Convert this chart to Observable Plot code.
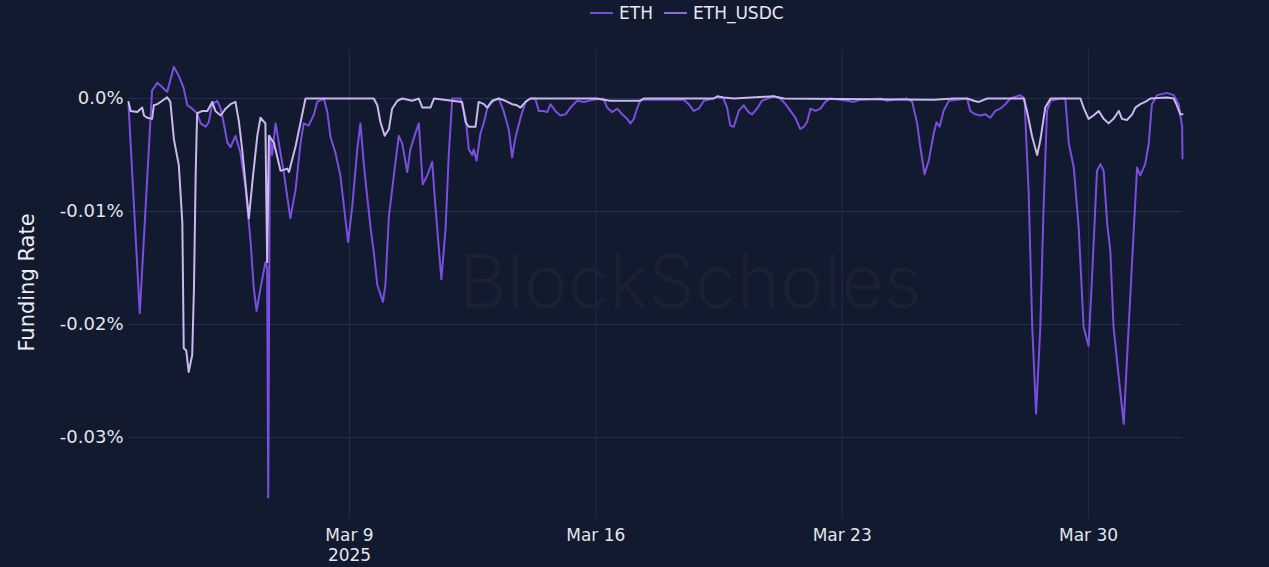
<!DOCTYPE html>
<html>
<head>
<meta charset="utf-8">
<script src="https://cdn.jsdelivr.net/npm/d3@7"></script>
<script src="https://cdn.jsdelivr.net/npm/@observablehq/plot@0.6"></script>
<style>
  html, body { margin: 0; padding: 0; background: #111a2e; }
  #legend { height: 30px; position: relative; font-family: "DejaVu Sans", sans-serif; font-size: 17px; color: #e8e8f0; }
  .item { position: absolute; top: 3px; display: flex; align-items: center; }
  .sw { width: 23px; height: 2px; margin-right: 6px; }
</style>
</head>
<body>
<div id="legend"></div>
<div id="chart"></div>
<script>
// Series names and colours
const seriesNames = ["ETH", "ETH_USDC"];
const seriesColors = ["#7b4ee0", "#cbb8ee"];
const legendColors = ["#7450d8", "#8a6ddc"];

// Time in day-of-March 2025 (fractional, UTC); values in percent
const ethT = [2.72,3.04,3.35,3.39,3.54,3.68,3.82,4.01,4.15,4.29,4.39,4.53,4.67,4.77,4.91,5.00,5.10,5.24,5.34,5.42,5.53,5.62,5.76,5.90,6.05,6.19,6.28,6.36,6.47,6.61,6.66,6.69,6.74,6.80,6.90,6.99,7.13,7.32,7.47,7.61,7.70,7.84,7.99,8.08,8.27,8.37,8.46,8.60,8.74,8.84,8.96,9.08,9.22,9.31,9.41,9.50,9.60,9.69,9.79,9.95,10.02,10.12,10.26,10.40,10.50,10.64,10.73,10.88,10.97,11.08,11.21,11.35,11.44,11.61,11.73,11.82,11.92,12.15,12.30,12.39,12.49,12.53,12.61,12.72,12.82,12.91,13.01,13.10,13.24,13.38,13.53,13.62,13.72,13.86,14.00,14.14,14.28,14.38,14.52,14.62,14.71,14.85,14.99,15.14,15.28,15.47,15.66,15.94,16.22,16.32,16.46,16.61,16.75,16.89,16.98,17.08,17.17,17.27,18.50,18.64,18.78,18.92,19.07,19.45,19.63,19.73,19.82,19.92,20.06,20.20,20.34,20.44,20.58,20.72,21.05,21.24,21.39,21.53,21.67,21.81,21.91,22.00,22.10,22.24,22.38,22.52,22.66,23.14,23.33,23.52,24.09,24.28,24.46,24.84,24.99,25.13,25.22,25.34,25.46,25.60,25.68,25.77,25.88,26.03,26.55,26.64,26.78,26.93,27.07,27.21,27.35,27.49,27.64,27.78,28.06,28.18,28.30,28.40,28.51,28.63,28.72,28.82,28.92,29.20,29.34,29.44,29.58,29.72,29.86,30.00,30.10,30.24,30.34,30.43,30.53,30.62,30.71,30.86,31.00,31.09,31.24,31.38,31.47,31.61,31.71,31.80,31.95,32.23,32.42,32.56,32.66,32.67];
const ethV = [-0.0005,-0.0190,-0.0015,0.0007,0.0014,0.0010,0.0006,0.0028,0.0020,0.0009,-0.0006,-0.0009,-0.0013,-0.0022,-0.0025,-0.0021,-0.0005,-0.0002,-0.0009,-0.0021,-0.0039,-0.0043,-0.0033,-0.0048,-0.0080,-0.0127,-0.0168,-0.0188,-0.0168,-0.0145,-0.0150,-0.0353,-0.0033,-0.0050,-0.0022,-0.0039,-0.0065,-0.0106,-0.0080,-0.0039,-0.0022,-0.0024,-0.0014,-0.0003,0.0000,-0.0012,-0.0034,-0.0048,-0.0068,-0.0095,-0.0127,-0.0095,-0.0045,-0.0022,-0.0059,-0.0086,-0.0115,-0.0136,-0.0165,-0.0180,-0.0165,-0.0104,-0.0068,-0.0033,-0.0040,-0.0065,-0.0045,-0.0030,-0.0022,-0.0076,-0.0068,-0.0056,-0.0095,-0.0160,-0.0115,-0.0050,0.0000,0.0000,-0.0017,-0.0045,-0.0050,-0.0045,-0.0055,-0.0031,-0.0021,-0.0009,-0.0005,-0.0002,0.0000,-0.0011,-0.0028,-0.0052,-0.0034,-0.0017,-0.0003,0.0000,0.0000,-0.0011,-0.0011,-0.0012,-0.0005,-0.0011,-0.0015,-0.0014,-0.0008,-0.0002,-0.0003,-0.0001,0.0000,-0.0008,-0.0012,-0.0009,-0.0014,-0.0018,-0.0022,-0.0018,-0.0009,-0.0001,-0.0001,-0.0005,-0.0011,-0.0009,-0.0002,0.0001,0.0000,-0.0008,-0.0024,-0.0025,-0.0011,-0.0006,-0.0012,-0.0014,-0.0009,-0.0002,0.0002,0.0000,-0.0005,-0.0011,-0.0017,-0.0027,-0.0025,-0.0021,-0.0009,-0.0011,-0.0009,-0.0003,0.0000,-0.0002,-0.0003,-0.0001,0.0000,-0.0002,-0.0001,0.0000,-0.0003,-0.0022,-0.0043,-0.0067,-0.0055,-0.0031,-0.0021,-0.0025,-0.0011,-0.0002,0.0000,-0.0011,-0.0014,-0.0015,-0.0014,-0.0017,-0.0011,-0.0009,-0.0005,0.0000,0.0003,0.0000,-0.0084,-0.0202,-0.0279,-0.0202,-0.0099,-0.0011,-0.0002,0.0000,0.0000,-0.0040,-0.0061,-0.0114,-0.0202,-0.0219,-0.0158,-0.0064,-0.0058,-0.0064,-0.0111,-0.0135,-0.0202,-0.0247,-0.0288,-0.0232,-0.0143,-0.0061,-0.0068,-0.0058,-0.0040,-0.0005,0.0003,0.0005,0.0003,-0.0005,-0.0025,-0.0053];

const usdcT = [2.72,2.78,2.97,3.11,3.16,3.25,3.39,3.44,3.54,3.68,3.82,3.91,4.01,4.15,4.25,4.29,4.36,4.43,4.53,4.58,4.63,4.67,4.82,4.96,5.10,5.19,5.34,5.48,5.62,5.76,5.86,5.95,6.14,6.24,6.38,6.47,6.61,6.66,6.71,6.85,7.04,7.23,7.28,7.47,7.61,7.75,9.69,9.79,9.88,10.00,10.12,10.21,10.36,10.50,10.78,10.97,11.07,11.30,11.40,12.20,12.30,12.39,12.58,12.67,12.82,12.91,13.05,13.24,13.43,13.62,13.76,13.86,14.00,14.14,16.04,16.22,16.41,17.27,17.36,19.35,19.45,19.63,19.92,21.05,21.34,25.60,26.17,26.55,26.74,26.88,27.12,28.16,28.25,28.40,28.54,28.63,28.77,28.92,29.77,29.86,30.00,30.14,30.29,30.43,30.57,30.71,30.86,30.95,31.09,31.24,31.33,31.47,31.61,31.76,32.23,32.42,32.51,32.61,32.67];
const usdcV = [-0.0003,-0.0011,-0.0012,-0.0008,-0.0015,-0.0017,-0.0018,-0.0006,-0.0005,-0.0002,0.0001,-0.0003,-0.0036,-0.0059,-0.0110,-0.0221,-0.0223,-0.0242,-0.0227,-0.0168,-0.0065,-0.0013,-0.0011,-0.0011,-0.0003,-0.0011,-0.0015,-0.0009,-0.0005,-0.0003,-0.0021,-0.0045,-0.0106,-0.0074,-0.0033,-0.0017,-0.0022,-0.0145,-0.0033,-0.0039,-0.0064,-0.0062,-0.0065,-0.0042,-0.0021,0.0000,0.0000,-0.0006,-0.0021,-0.0033,-0.0027,-0.0009,-0.0002,0.0000,-0.0002,0.0000,-0.0008,-0.0008,0.0000,-0.0003,-0.0021,-0.0025,-0.0025,-0.0003,-0.0005,-0.0008,-0.0002,0.0000,-0.0002,-0.0005,-0.0006,-0.0008,-0.0003,0.0000,0.0000,-0.0001,-0.0002,-0.0002,0.0000,0.0000,0.0002,0.0001,0.0000,0.0002,0.0000,-0.0001,0.0000,0.0000,-0.0002,-0.0003,0.0000,0.0000,-0.0011,-0.0034,-0.0050,-0.0037,-0.0008,0.0000,0.0000,-0.0008,-0.0018,-0.0015,-0.0011,-0.0018,-0.0022,-0.0018,-0.0011,-0.0018,-0.0019,-0.0014,-0.0008,-0.0005,-0.0003,0.0000,0.0001,0.0000,-0.0006,-0.0014,-0.0014];

// Axis ticks
const yTicks = [0, -0.01, -0.02, -0.03];
const yTickLabels = ["0.0%", "-0.01%", "-0.02%", "-0.03%"];
const xTickDays = [9, 16, 23, 30];
const xTickLabels = ["Mar 9\n2025", "Mar 16", "Mar 23", "Mar 30"];
const yTitle = "Funding Rate";
const watermark = "BlockScholes";

const toDate = d => new Date(Date.UTC(2025, 2, 1) + (d - 1) * 864e5);
const eth = ethT.map((t, i) => ({date: toDate(t), v: ethV[i], s: seriesNames[0]}));
const usdc = usdcT.map((t, i) => ({date: toDate(t), v: usdcV[i], s: seriesNames[1]}));
const xTicks = xTickDays.map(toDate);

// legend
const legend = document.getElementById("legend");
const lx = [590, 664];
seriesNames.forEach((n, i) => {
  const it = document.createElement("div");
  it.className = "item";
  it.style.left = lx[i] + "px";
  it.innerHTML = `<span class="sw" style="background:${legendColors[i]}"></span><span>${n}</span>`;
  legend.appendChild(it);
});

const chart = Plot.plot({
  width: 1269,
  height: 537,
  marginLeft: 128,
  marginRight: 87,
  marginTop: 20,
  marginBottom: 49,
  style: {background: "#111a2e", color: "#e4e4ec", fontFamily: "DejaVu Sans, sans-serif", fontSize: "17px"},
  x: {type: "utc", domain: [toDate(ethT[0]), toDate(ethT[ethT.length - 1])]},
  y: {domain: [-0.03717, 0.00425]},
  marks: [
    Plot.gridY(yTicks, {stroke: "#243052", strokeOpacity: 1, strokeWidth: 1}),
    Plot.gridX(xTicks, {stroke: "#222c4a", strokeOpacity: 1, strokeWidth: 1}),
    Plot.text([watermark], {frameAnchor: "middle", dx: 35, dy: 0, fontSize: 74, fontFamily: "Inter, sans-serif", fontWeight: 300, fill: "#1a2133"}),
    Plot.axisY(yTicks, {tickSize: 0, tickPadding: 5, tickFormat: (d, i) => yTickLabels[i], label: null, fontSize: 18}),
    Plot.axisX(xTicks, {tickSize: 0, tickPadding: 9, tickFormat: (d, i) => xTickLabels[i], label: null, fontSize: 17, lineHeight: 1.15}),
    Plot.text([yTitle], {frameAnchor: "left", textAnchor: "middle", dx: -101, dy: -2, rotate: -90, fontSize: 21, fill: "#ececf2"}),
    Plot.line(eth, {x: "date", y: "v", stroke: seriesColors[0], strokeWidth: 2}),
    Plot.line(usdc, {x: "date", y: "v", stroke: seriesColors[1], strokeWidth: 2})
  ]
});
document.getElementById("chart").appendChild(chart);
</script>
</body>
</html>
